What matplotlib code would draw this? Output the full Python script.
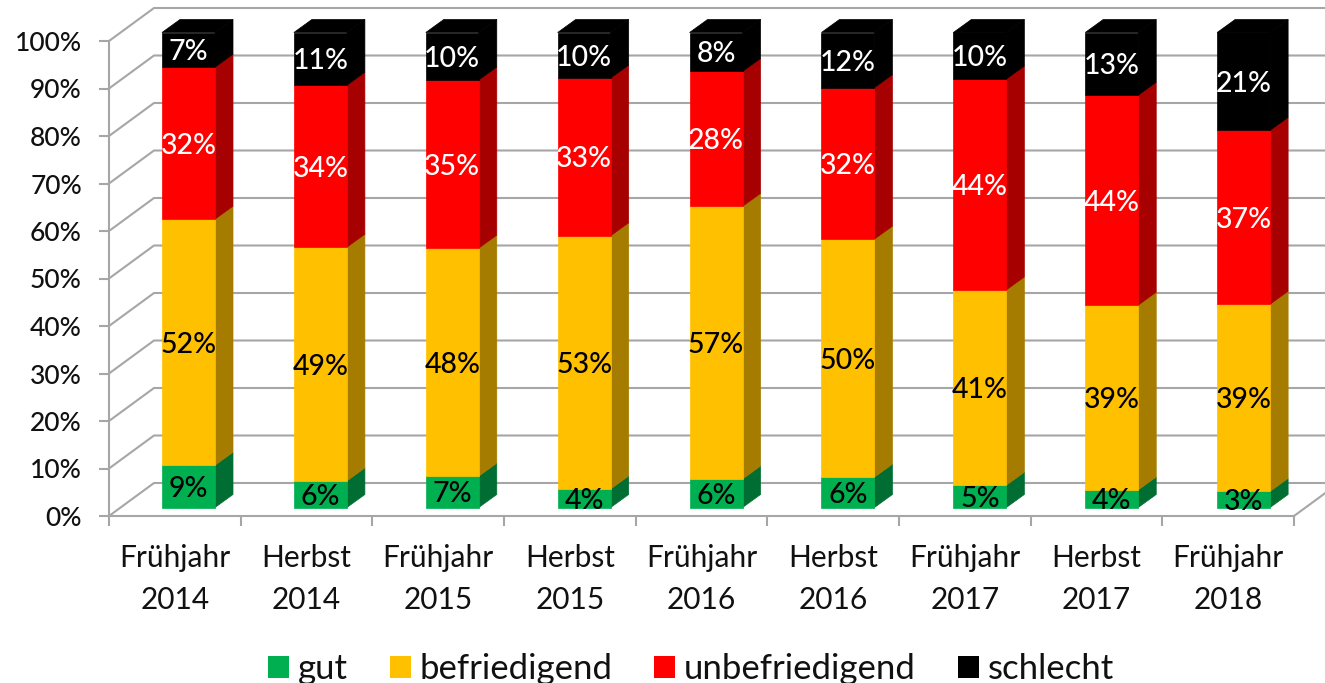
import matplotlib
matplotlib.use('Agg')
import matplotlib.pyplot as plt
from matplotlib.patches import Patch
import numpy as np

categorias = ['Frühjahr\n2014', 'Herbst\n2014', 'Frühjahr\n2015', 'Herbst\n2015', 'Frühjahr\n2016',
              'Herbst\n2016', 'Frühjahr\n2017', 'Herbst\n2017', 'Frühjahr\n2018']
gut = [8.9, 5.6, 6.6, 3.9, 6.0, 6.4, 4.7, 3.7, 3.4]
befriedigend = [51.8, 49.2, 48.0, 53.3, 57.4, 50.1, 41.1, 38.9, 39.4]
unbefriedigend = [32.0, 34.1, 35.4, 33.2, 28.4, 31.9, 44.4, 44.2, 36.6]
schlecht = [7.3, 11.1, 10.0, 9.6, 8.2, 11.6, 9.8, 13.2, 20.6]

series = [('gut', gut, '#00B050', '#006E32', 'black'),
          ('befriedigend', befriedigend, '#FFC000', '#A67C00', 'black'),
          ('unbefriedigend', unbefriedigend, '#FF0000', '#A60000', 'white'),
          ('schlecht', schlecht, '#000000', '#000000', 'white')]

W, H = 1325, 683
gris = '#A6A6A6'
plt.rcParams['font.family'] = ['Lato', 'DejaVu Sans']

fig = plt.figure(figsize=(W/100, H/100), dpi=100)
# ejes: 0-9 categorias en x 109-1294 px, 0-100 % en y 516-41 px
ax = fig.add_axes([109/W, 1-516/H, (1294-109)/W, (516-41)/H])
ax.set_xlim(0, 9)
ax.set_ylim(0, 100)

px_x = 9/(1294-109)
px_y = 100/(516-41)

# paredes (profundidad del grafico)
dx = 45*px_x
dy = 33*px_y
for v in range(0, 101, 10):
    ax.plot([0, dx, 9+dx], [v, v+dy, v+dy], color=gris, lw=1.5, clip_on=False, zorder=1)
ax.plot([9, 9+dx], [0, dy], color=gris, lw=1.5, clip_on=False, zorder=1)

# barras
x = np.arange(9)
ancho = 53*px_x
izq = x*1.0017 + 53*px_x
base = 8.5*px_y
bdx = 18*px_x
bdy = 13*px_y
abajo = np.full(9, base)
for nombre, valores, color, lado, ctexto in series:
    valores = np.array(valores)
    ax.bar(izq, valores, ancho, bottom=abajo, align='edge', color=color, edgecolor=color, lw=0.5,
           zorder=3, clip_on=False)
    for i in range(9):
        r = izq[i]+ancho
        ax.fill([r, r+bdx, r+bdx, r],
                [abajo[i], abajo[i]+bdy, abajo[i]+valores[i]+bdy, abajo[i]+valores[i]],
                facecolor=lado, edgecolor=lado, lw=0.5, zorder=2.5, clip_on=False)
        ax.text(izq[i]+ancho/2, abajo[i]+valores[i]/2-2.5*px_y, f'{valores[i]:.0f}%', color=ctexto,
                ha='center', va='center', fontsize=20.5, fontweight='medium', zorder=5, clip_on=False)
    abajo = abajo + valores

# tapa de la ultima serie
for i in range(9):
    ax.fill([izq[i], izq[i]+bdx, izq[i]+ancho+bdx, izq[i]+ancho],
            [abajo[i], abajo[i]+bdy, abajo[i]+bdy, abajo[i]],
            facecolor='black', edgecolor='black', lw=0.5, zorder=2.5, clip_on=False)

# ejes
for s in ['top', 'right']:
    ax.spines[s].set_visible(False)
for s in ['left', 'bottom']:
    ax.spines[s].set_color(gris)
    ax.spines[s].set_linewidth(1.5)
ax.set_yticks(range(0, 101, 10))
ax.set_yticklabels([f'{v}%' for v in range(0, 101, 10)], fontsize=19, fontweight='medium', color='#111111')
ax.set_xticks(range(10))
ax.set_xticklabels([])
ax.set_xticks(x+0.5, minor=True)
ax.set_xticklabels(categorias, minor=True, fontsize=21.5, color='#111111', linespacing=1.6)
ax.tick_params(axis='y', length=7.5, width=1.5, color=gris, pad=12)
ax.tick_params(axis='x', which='major', length=7, width=1.5, color=gris)
ax.tick_params(axis='x', which='minor', length=0, pad=20)

# leyenda
handles = [Patch(facecolor=s[2], edgecolor='none', label=s[0]) for s in series]
fig.legend(handles=handles, loc='center', bbox_to_anchor=(691/W, 1-669/H), ncol=4, frameon=False,
           fontsize=25, handlelength=0.6, handleheight=0.6, handletextpad=0.26, columnspacing=1.2,
           labelcolor='#111111', borderpad=0)

fig.savefig('out.png', dpi=100, facecolor='white')
